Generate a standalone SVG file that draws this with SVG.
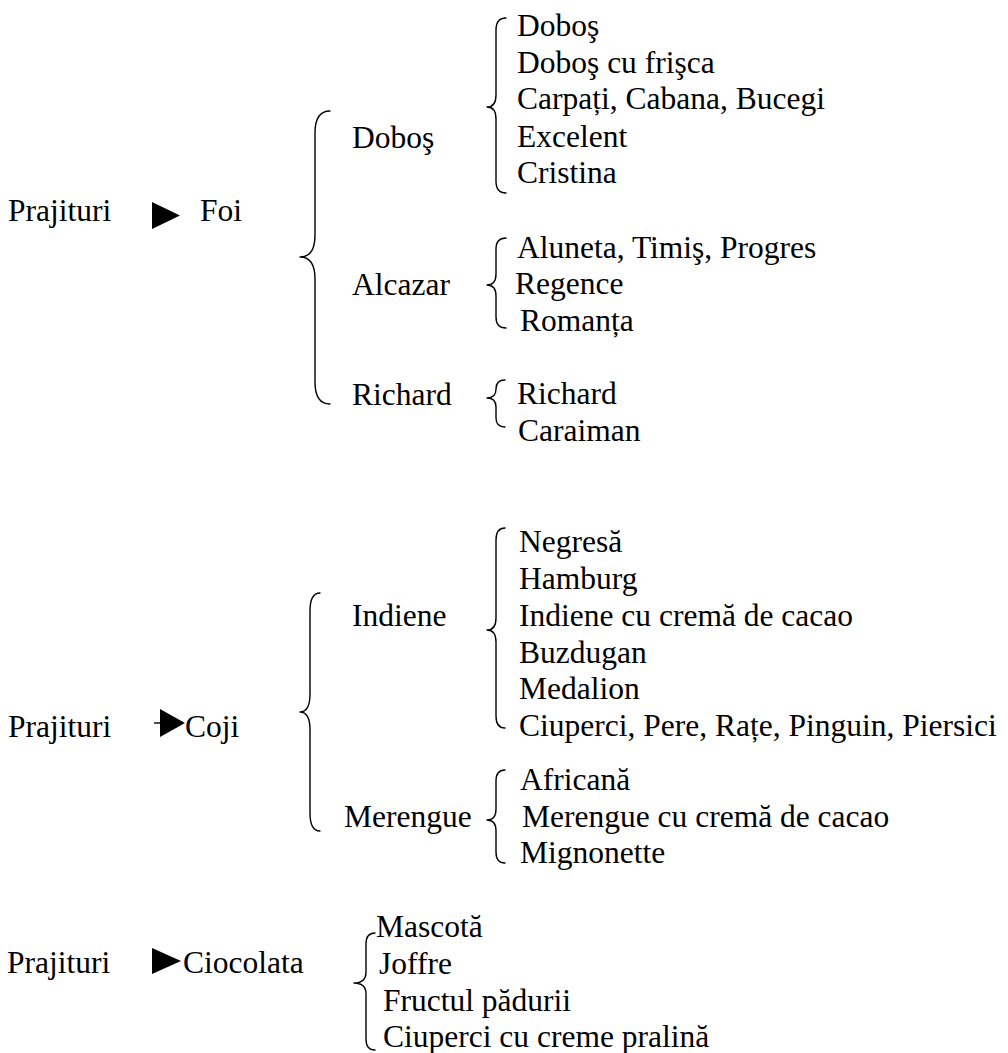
<svg xmlns="http://www.w3.org/2000/svg" width="1008" height="1053" viewBox="0 0 1008 1053">
  <style>
    text { font-family: "Liberation Serif", "Times New Roman", serif; font-size: 31.5px; fill: #000; }
    .brace { fill: none; stroke: #000; stroke-width: 1.4; stroke-linecap: round; stroke-linejoin: round; }
    .tri { fill: #000; stroke: none; }
    .stem { stroke: #000; stroke-width: 1.4; }
  </style>
  <rect width="1008" height="1053" fill="#fff"/>

  <!-- braces and arrows -->
  <g id="connectors">
    <!-- Foi branch -->
    <polygon class="tri" points="152,202 180,215.5 152,229"/>
    <path class="brace" d="M330,111 Q315,111 315,133 L315,235 Q315,257 300,257 Q315,257 315,279 L315,382 Q315,404 330,404"/>
    <path class="brace" d="M506,18 Q496,18 496,30 L496,95 Q496,107 487,107 Q496,107 496,119 L496,181 Q496,193 506,193"/>
    <path class="brace" d="M506,238 Q496,238 496,249 L496,274 Q496,285 487,285 Q496,285 496,296 L496,317 Q496,328 506,328"/>
    <path class="brace" d="M505,380 Q496,380 496,389 Q496,398 487,398 Q496,398 496,407 L496,418 Q496,427 505,427"/>

    <!-- Coji branch -->
    <line class="stem" x1="154" y1="723" x2="162" y2="723"/>
    <polygon class="tri" points="160,709 185,723 160,737"/>
    <path class="brace" d="M320,593 Q310,593 310,611 L310,694 Q310,712 300,712 Q310,712 310,730 L310,813 Q310,831 320,831"/>
    <path class="brace" d="M505,528 Q496,528 496,540 L496,618 Q496,630 487,630 Q496,630 496,642 L496,716 Q496,728 505,728"/>
    <path class="brace" d="M505,770 Q496,770 496,781 L496,809 Q496,820 487,820 Q496,820 496,831 L496,852 Q496,863 505,863"/>

    <!-- Ciocolata branch -->
    <polygon class="tri" points="152,948 181,961 152,974"/>
    <path class="brace" d="M375,933 Q366,933 366,944 L366,972 Q366,983 354,983 Q366,983 366,994 L366,1039 Q366,1050 375,1050"/>
  </g>

  <!-- Foi -->
  <g id="prajituri-foi"><text x="8" y="221">Prajituri</text></g>
  <g id="foi"><text x="200" y="221">Foi</text></g>
  <g id="dobos"><text x="352" y="148">Doboş</text></g>
  <g id="alcazar"><text x="352" y="295">Alcazar</text></g>
  <g id="richard"><text x="352" y="405">Richard</text></g>

  <g id="dobos-items">
    <text x="517" y="36">Doboş</text>
    <text x="517" y="73">Doboş cu frişca</text>
    <text x="517" y="109">Carpați, Cabana, Bucegi</text>
    <text x="517" y="147">Excelent</text>
    <text x="517" y="183">Cristina</text>
  </g>
  <g id="alcazar-items">
    <text x="517" y="258">Aluneta, Timiş, Progres</text>
    <text x="515" y="294">Regence</text>
    <text x="520" y="331">Romanța</text>
  </g>
  <g id="richard-items">
    <text x="517" y="404">Richard</text>
    <text x="518" y="441">Caraiman</text>
  </g>

  <!-- Coji -->
  <g id="prajituri-coji"><text x="8" y="737">Prajituri</text></g>
  <g id="coji"><text x="185" y="737">Coji</text></g>
  <g id="indiene"><text x="352" y="626">Indiene</text></g>
  <g id="merengue"><text x="344" y="827">Merengue</text></g>

  <g id="indiene-items">
    <text x="519" y="552">Negresă</text>
    <text x="519" y="589">Hamburg</text>
    <text x="519" y="626">Indiene cu cremă de cacao</text>
    <text x="519" y="663">Buzdugan</text>
    <text x="519" y="699">Medalion</text>
    <text x="519" y="736">Ciuperci, Pere, Rațe, Pinguin, Piersici</text>
  </g>
  <g id="merengue-items">
    <text x="520" y="790">Africană</text>
    <text x="522" y="827">Merengue cu cremă de cacao</text>
    <text x="520" y="863">Mignonette</text>
  </g>

  <!-- Ciocolata -->
  <g id="prajituri-ciocolata"><text x="7" y="973">Prajituri</text></g>
  <g id="ciocolata"><text x="183" y="973">Ciocolata</text></g>
  <g id="ciocolata-items">
    <text x="376" y="937">Mascotă</text>
    <text x="379" y="974">Joffre</text>
    <text x="383" y="1011">Fructul pădurii</text>
    <text x="383" y="1047">Ciuperci cu creme pralină</text>
  </g>
</svg>
